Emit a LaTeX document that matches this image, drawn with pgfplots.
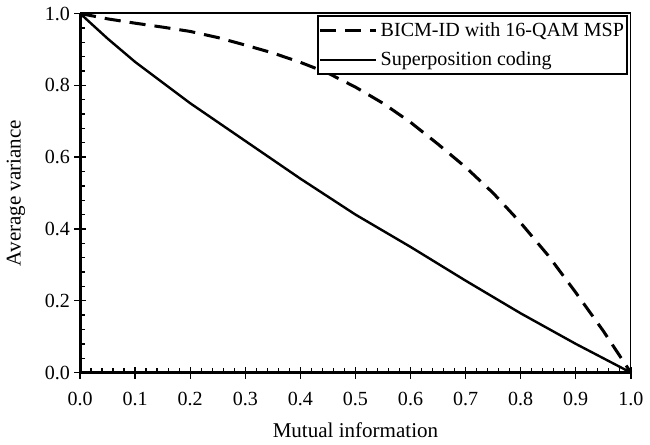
\documentclass[border=0pt]{standalone}
\usepackage{pgfplots}
\pgfplotsset{compat=1.18}
\usepackage{fontspec}
\setmainfont{Liberation Serif}
\begin{document}
\begin{tikzpicture}
\begin{axis}[
 scale only axis,
 width=273.75bp, height=178.5bp,
 xmin=0, xmax=1, ymin=0, ymax=1,
 axis lines=left,
 axis line style={-, line width=1.4bp},
 xtick={0,0.1,...,1.0}, ytick={0,0.2,...,1.0},
 minor x tick num=4, minor y tick num=4,
 tick align=inside,
 major tick length=3bp, minor tick length=2.2bp,
 tick style={black, line width=0.7bp},
 extra x ticks={0,0.1,...,1.0}, extra y ticks={0,0.2,...,1.0},
 extra x tick labels={}, extra y tick labels={},
 extra tick style={tick align=outside, major tick length=3bp},
 /pgf/number format/assume math mode=true,
 /pgf/number format/.cd, fixed, fixed zerofill, precision=1, /pgfplots/.cd,
 ticklabel style={font=\fontsize{10}{12}\selectfont},
 xticklabel style={yshift=-6bp},
 yticklabel style={xshift=-1.5bp},
 xlabel={Mutual information}, ylabel={Average variance},
 label style={font=\fontsize{10.5}{12}\selectfont},
 xlabel style={yshift=1bp},
 ylabel style={yshift=0bp},
 legend style={at={(0.995,0.995)}, anchor=north east, draw=black,
   line width=1bp, font=\fontsize{10}{12}\selectfont,
   inner xsep=0pt, inner ysep=1bp, row sep=2bp,
   nodes={inner xsep=1.5bp}},
 legend cell align=left,
 legend image code/.code={\draw[#1] (0cm,0cm) -- (28bp,0cm);},
 clip=false,
]
\addplot[black, line width=1.5bp, dash pattern=on 8bp off 4.5bp] coordinates {
 (0,1) (0.05,0.985) (0.1,0.973) (0.15,0.962) (0.2,0.95) (0.25,0.933)
 (0.3,0.912) (0.35,0.89) (0.4,0.864) (0.45,0.834) (0.5,0.795)
 (0.55,0.75) (0.6,0.697) (0.65,0.636) (0.7,0.572) (0.75,0.5)
 (0.8,0.417) (0.85,0.326) (0.9,0.223) (0.95,0.116) (1.0,0)};
\addplot[black, line width=1.2bp] coordinates {
 (0,1) (0.05,0.93) (0.1,0.865) (0.2,0.75) (0.3,0.645) (0.4,0.54)
 (0.5,0.44) (0.6,0.35) (0.7,0.256) (0.8,0.165) (0.9,0.08) (1.0,0)};
\legend{BICM-ID with 16-QAM MSP, Superposition coding}
\draw[black, line width=1bp] (rel axis cs:0,1) -- (rel axis cs:1,1);
\draw[black, line width=0.6bp] (rel axis cs:1,1) -- (rel axis cs:1,0);
\end{axis}
\end{tikzpicture}
\end{document}
